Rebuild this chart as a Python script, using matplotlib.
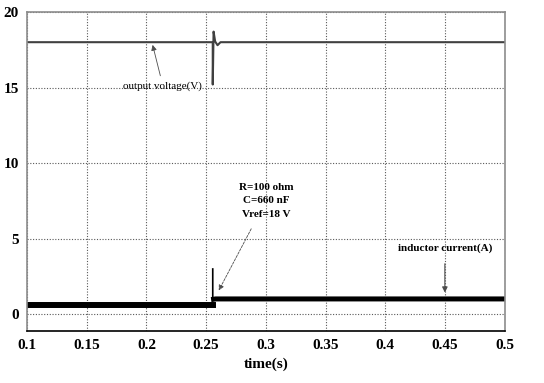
import matplotlib
matplotlib.use("Agg")
from matplotlib import pyplot as plt

# datos
t_volt = [0.1, 0.2555, 0.2555, 0.2562, 0.2575, 0.2595, 0.262, 0.5]
volt = [18.0, 18.0, 15.2, 18.7, 18.05, 17.8, 18.0, 18.0]

t_cur_a = [0.1, 0.2555]
cur_a = [0.6, 0.6]
t_cur_b = [0.2555, 0.2555, 0.2562, 0.258, 0.5]
cur_b = [3.0, 0.9, 1.0, 1.02, 1.02]

xticks = [0.1, 0.15, 0.2, 0.25, 0.3, 0.35, 0.4, 0.45, 0.5]
xticklabels = ["0.1", "0.15", "0.2", "0.25", "0.3", "0.35", "0.4", "0.45", "0.5"]
yticks = [0, 5, 10, 15, 20]

plt.rcParams["font.family"] = ["Liberation Serif", "DejaVu Serif"]

fig = plt.figure(figsize=(5.44, 3.83), dpi=100)
ax = fig.add_axes([0.0496, 0.1358, 0.8784, 0.833])

ax.plot(t_volt, volt, color="#404040", lw=1.5)
ax.plot(t_cur_a, cur_a, color="black", lw=4.3)
ax.plot(t_cur_b, cur_b, color="black", lw=1.2)
ax.plot(t_cur_b[2:], cur_b[2:], color="black", lw=3.6)

ax.set_xlim(0.1, 0.5)
ax.set_ylim(-1.1, 20)
ax.set_xticks(xticks)
ax.set_xticklabels(xticklabels)
ax.set_yticks(yticks)
ax.tick_params(length=0, labelsize=11, pad=6)
for lab in ax.get_xticklabels() + ax.get_yticklabels():
    lab.set_fontweight("bold")
ax.grid(True, color="0.35", linestyle=(0, (1, 1.5)), lw=0.8)
for s in ax.spines.values():
    s.set_color("0.55")
    s.set_linewidth(1.2)
ax.spines["bottom"].set_color("black")

ax.set_xlabel("time(s)", fontsize=11, fontweight="bold", labelpad=4)

# anotaciones
ax.annotate("output voltage(V)", xy=(0.2046, 18.0), xytext=(0.2138, 15.1),
            ha="center", va="center", fontsize=8,
            arrowprops=dict(arrowstyle="-|>", color="0.3", lw=0.6,
                            mutation_scale=8, shrinkA=2, shrinkB=2))
ax.annotate("R=100 ohm\nC=660 nF\nVref=18 V", xy=(0.26, 1.5), xytext=(0.3, 7.5),
            ha="center", va="center", fontsize=8, fontweight="bold",
            linespacing=1.6,
            arrowprops=dict(arrowstyle="-|>", color="0.3", lw=0.6,
                            linestyle=(0, (3, 1.5)), mutation_scale=8,
                            shrinkA=6, shrinkB=1))
ax.annotate("inductor current(A)", xy=(0.4498, 1.35), xytext=(0.4498, 4.4),
            ha="center", va="center", fontsize=8, fontweight="bold",
            arrowprops=dict(arrowstyle="-|>", color="0.3", lw=0.8,
                            mutation_scale=8, shrinkA=6, shrinkB=1))

plt.savefig("out.png", dpi=100)
